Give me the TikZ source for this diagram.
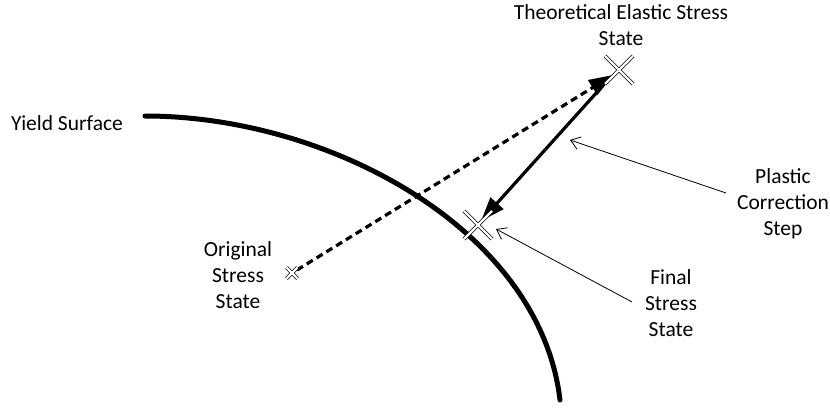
\documentclass[tikz,border=0pt]{standalone}
\usepackage{fontspec}
\setmainfont{Carlito}
\usetikzlibrary{arrows.meta}
\begin{document}
\begin{tikzpicture}[x=1pt,y=-1pt,
  lbl/.style={align=center,inner sep=0pt,font=\fontsize{21.5}{26}\selectfont},
  surface/.style={line width=5pt,line cap=round},
  thick arrow/.style={line width=3.2pt,-{Triangle[length=24pt,width=17pt]}},
  thin arrow/.style={line width=0.8pt,-{Straight Barb[length=9pt,width=13pt,line width=0.8pt]}},
  crossmark/.style={line width=0.8pt,double=white,double distance=2.2pt}
]
\useasboundingbox (0,0) rectangle (830,413);
% points
\coordinate (orig) at (292,273);
\coordinate (theo) at (619,70);
\coordinate (fin) at (478,225);
\coordinate (ys0) at (145,116);
\coordinate (ys1) at (560,400);
% yield surface
\draw[surface] (ys0) .. controls (330,116) and (540,230) .. (ys1);
% dashed elastic predictor
\draw[thick arrow,dash pattern=on 7pt off 4.5pt] ([shift={(5,-3)}]orig) -- ([shift={(-6,5)}]theo);
% plastic correction
\draw[thick arrow] ([shift={(-12,11)}]theo) -- ([shift={(3,-4)}]fin);
% crosses
\foreach \p/\s in {orig/5.5,theo/14,fin/14}{
  \draw[crossmark] ([shift={(-\s,-\s)}]\p) -- ([shift={(\s,\s)}]\p)
                   ([shift={(-\s,\s)}]\p) -- ([shift={(\s,-\s)}]\p);
}
% labels
\node[lbl] (ltheo) at (621,25) {Theoretical Elastic Stress\\State};
\node[lbl] (lyield) at (67,123) {Yield Surface};
\node[lbl] (lorig) at (238,275) {Original\\Stress\\State};
\node[lbl] (lplas) at (783,204) {Plastic\\Correction\\Step};
\node[lbl] (lfin) at (671,303) {Final\\Stress\\State};
% pointers
\coordinate (pstart) at (726,193);
\coordinate (ptip) at (570,140);
\coordinate (fstart) at (632,302);
\coordinate (ftip) at (496,229);
\draw[thin arrow] (pstart) -- (ptip);
\draw[thin arrow] (fstart) -- (ftip);
\end{tikzpicture}
\end{document}
